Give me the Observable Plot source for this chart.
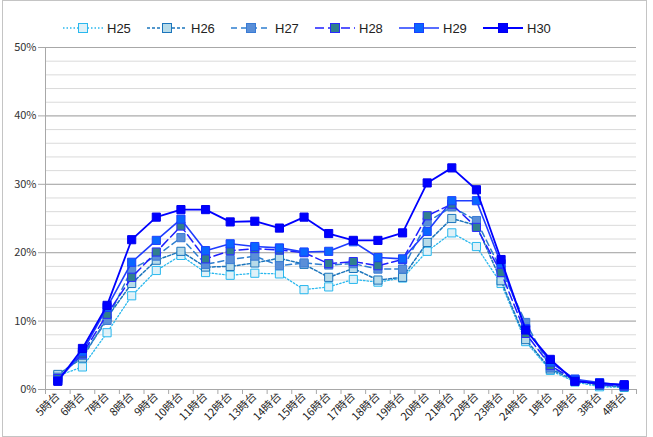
<!DOCTYPE html>
<html><head><meta charset="utf-8">
<script src="https://cdn.jsdelivr.net/npm/d3@7"></script>
<script src="https://cdn.jsdelivr.net/npm/@observablehq/plot@0.6"></script>
<style>
body{margin:0;background:#fff;font-family:"Noto Sans CJK JP","Noto Sans",sans-serif;}
#frame{position:absolute;left:2px;top:0;width:643px;height:435px;border:1px solid #c4c4c4;box-sizing:content-box;}
#legend{position:absolute;left:0;top:0;height:30px;width:653px;}
.item{position:absolute;top:20px;height:16px;display:flex;align-items:center;font:13px Arial,"Liberation Sans",sans-serif;color:#222;}
.item svg{margin-right:4px;}
#chart{position:absolute;left:0;top:37px;}
</style></head><body>
<div id="frame"></div>
<div id="chart"></div>
<div id="legend"></div>
<script>
const categories = ["5時台","6時台","7時台","8時台","9時台","10時台","11時台","12時台","13時台","14時台","15時台","16時台","17時台","18時台","19時台","20時台","21時台","22時台","23時台","24時台","1時台","2時台","3時台","4時台"];
const seriesNames = ["H25","H26","H27","H28","H29","H30"];
const H25 = [2.0,3.3,8.3,13.7,17.4,19.6,17.1,16.7,17.0,16.9,14.6,15.0,16.1,15.7,16.3,20.2,22.9,20.9,15.5,7.0,2.8,1.1,0.4,0.3];
const H26 = [2.2,4.6,10.5,15.5,18.9,20.2,17.9,18.0,18.5,19.2,18.3,16.4,17.7,16.0,16.4,21.5,25.0,24.0,15.9,7.3,3.0,1.3,0.6,0.4];
const H27 = [1.8,5.0,10.1,17.6,19.5,22.2,18.3,19.0,19.5,18.1,18.5,18.2,18.4,17.6,17.6,24.5,26.7,24.7,17.5,9.8,3.2,1.5,0.8,0.5];
const H28 = [1.6,5.2,11.0,16.4,20.1,23.9,19.1,20.3,20.6,20.4,20.0,18.4,18.7,18.1,19.0,25.4,27.1,23.7,17.1,8.2,3.5,1.4,0.7,0.5];
const H29 = [1.3,5.5,12.0,18.6,21.8,24.9,20.3,21.3,20.9,20.7,20.1,20.2,21.6,19.3,19.1,23.1,27.6,27.6,18.4,8.9,4.0,1.5,1.0,0.6];
const H30 = [1.2,6.0,12.3,21.9,25.2,26.3,26.3,24.5,24.6,23.6,25.2,22.8,21.8,21.8,22.9,30.2,32.4,29.2,19.0,8.7,4.4,1.2,0.9,0.7];
const yTicks = [0,10,20,30,40,50];
const seriesValues = [H25,H26,H27,H28,H29,H30];

const styles = {
  H25:{line:"#2ab8ee", dash:"1.5,2", w:1.3, fill:"#dff1f8", mstroke:"#2ab8ee"},
  H26:{line:"#1b75bc", dash:"3,2", w:1.5, fill:"#b7dbe9", mstroke:"#1b75bc"},
  H27:{line:"#2f7fd0", dash:"6,4", w:1.5, fill:"#5a8fd8", mstroke:"#3a7bd5"},
  H28:{line:"#1f1fff", dash:"9,4", w:1.5, fill:"#2f7f8f", mstroke:"#2a2aff"},
  H29:{line:"#1f3dff", dash:null, w:1.6, fill:"#0a66ff", mstroke:"#1a40ff"},
  H30:{line:"#0000ff", dash:null, w:1.8, fill:"#0000ff", mstroke:"#0000ee"}
};

const data = seriesNames.flatMap((s,k)=>seriesValues[k].map((v,i)=>({s, i, v: v/100})));
const idx = d3.range(categories.length);
const bounds = d3.range(categories.length+1).map(i=>i-0.5);
const minor = d3.range(0, 51, 2).map(d=>d/100);
const major = yTicks.map(d=>d/100);

const marks = [
  Plot.ruleY(minor, {stroke:"#dadada", strokeWidth:1}),
  Plot.ruleY(major, {stroke:"#a8a8a8", strokeWidth:1}),
  Plot.ruleX([-0.5], {stroke:"#a8a8a8"}),
  Plot.axisY({ticks: major, tickFormat: d=>Math.round(d*100)+"%", tickSize:7, tickPadding:2, stroke:"#a8a8a8", fill:"#333", fontSize:11, label:null}),
  Plot.axisX({ticks: bounds, tickFormat: ()=>"", tickSize:5, stroke:"#a8a8a8", label:null}),
  Plot.axisX({ticks: idx, tickFormat: i=>categories[i], tickSize:0, tickPadding:5, tickRotate:-45, fill:"#222", fontSize:11, label:null})
];
for (const s of seriesNames) {
  const st = styles[s];
  const rows = data.filter(d=>d.s===s);
  marks.push(Plot.line(rows, {x:"i", y:"v", stroke:st.line, strokeWidth:st.w, strokeDasharray:st.dash}));
  marks.push(Plot.dot(rows, {x:"i", y:"v", symbol:"square", r:4.6, fill:st.fill, stroke:st.mstroke, strokeWidth:1}));
}

const chart = Plot.plot({
  width:653, height:400,
  marginTop:10, marginBottom:48, marginLeft:45, marginRight:17,
  x:{type:"linear", domain:[-0.5, categories.length-0.5], label:null},
  y:{domain:[0,0.5], label:null},
  style:{fontFamily:'"Noto Sans CJK JP","Noto Sans",sans-serif', fontSize:"11px", background:"transparent"},
  marks
});
document.getElementById("chart").appendChild(chart);

// legend
const legend = document.getElementById("legend");
seriesNames.forEach((s,k)=>{
  const st = styles[s];
  const div = document.createElement("div");
  div.className="item";
  div.style.left = (63 + 84*k) + "px";
  div.innerHTML = `<svg width="40" height="14"><line x1="0" x2="40" y1="7" y2="7" stroke="${st.line}" stroke-width="${st.w}" ${st.dash?`stroke-dasharray="${st.dash}"`:""}/><rect x="15.5" y="2.5" width="9" height="9" fill="${st.fill}" stroke="${st.mstroke}"/></svg><span>${s}</span>`;
  legend.appendChild(div);
});
</script>
</body></html>
